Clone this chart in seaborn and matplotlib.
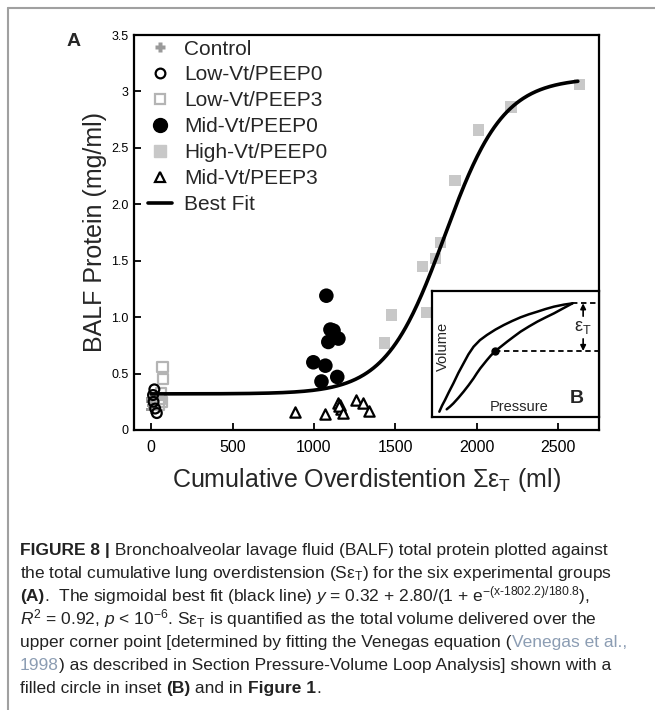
import numpy as np
import pandas as pd
import matplotlib
matplotlib.use("Agg")
import matplotlib.pyplot as plt
from matplotlib.lines import Line2D
import seaborn as sns

# ---------------- data ----------------
control_x = [0, 5, -5, 10, 0]
control_y = [0.18, 0.22, 0.25, 0.20, 0.28]

lowvt_peep0_x = [20, 12, 15, 25, 35]
lowvt_peep0_y = [0.36, 0.31, 0.25, 0.19, 0.15]

lowvt_peep3_x = [70, 72, 60, 55, 65, 50]
lowvt_peep3_y = [0.56, 0.45, 0.33, 0.28, 0.25, 0.22]

midvt_peep0_x = [1076, 1101, 1120, 1088, 1150, 996, 1070, 1046, 1143]
midvt_peep0_y = [1.19, 0.89, 0.88, 0.78, 0.81, 0.60, 0.57, 0.43, 0.47]

highvt_peep0_x = [1433, 1476, 1667, 1691, 1747, 1777, 1864, 2011, 2208, 2630]
highvt_peep0_y = [0.77, 1.02, 1.45, 1.04, 1.52, 1.66, 2.21, 2.66, 2.86, 3.06]

midvt_peep3_x = [886, 1065, 1150, 1160, 1165, 1155, 1180, 1260, 1300, 1340]
midvt_peep3_y = [0.16, 0.14, 0.24, 0.22, 0.19, 0.21, 0.15, 0.27, 0.24, 0.17]

# sigmoid best fit parameters (from caption)
fit_a, fit_b, fit_x0, fit_w = 0.32, 2.80, 1802.2, 180.8
fit_xmin, fit_xmax = 0, 2620

xticks = [0, 500, 1000, 1500, 2000, 2500]
yticks = [0, 0.5, 1.0, 1.5, 2.0, 2.5, 3.0, 3.5]
ytick_labels = ["0", "0.5", "1.0", "1.5", "2.0", "2.5", "3", "3.5"]

# inset schematic P-V loop (normalized)
loop_up_p = [0.044, 0.060, 0.078, 0.100, 0.128, 0.158, 0.189, 0.218, 0.249, 0.287, 0.329,
             0.380, 0.430, 0.480, 0.530, 0.580, 0.631, 0.680, 0.731, 0.790, 0.841]
loop_up_v = [0.042, 0.090, 0.135, 0.195, 0.267, 0.350, 0.426, 0.497, 0.558, 0.610, 0.651,
             0.694, 0.730, 0.762, 0.791, 0.815, 0.836, 0.857, 0.876, 0.892, 0.902]
loop_dn_p = [0.841, 0.785, 0.731, 0.680, 0.631, 0.580, 0.530, 0.490, 0.450, 0.415, 0.380,
             0.353, 0.329, 0.309, 0.289, 0.269, 0.249, 0.219, 0.189, 0.158, 0.128, 0.108, 0.088]
loop_dn_v = [0.902, 0.862, 0.823, 0.790, 0.757, 0.718, 0.677, 0.638, 0.598, 0.561, 0.524,
             0.489, 0.452, 0.419, 0.386, 0.348, 0.307, 0.252, 0.201, 0.152, 0.108, 0.083, 0.061]
ucp_p, ucp_v = 0.380, 0.524

# ---------------- style ----------------
sns.set_theme(style="ticks")
plt.rcParams["font.family"] = ["Liberation Sans", "DejaVu Sans"]
plt.rcParams["mathtext.fontset"] = "custom"
plt.rcParams["mathtext.rm"] = "Liberation Sans"
plt.rcParams["mathtext.it"] = "Liberation Sans:italic"
plt.rcParams["mathtext.bf"] = "Liberation Sans:bold"

W, H = 655, 710
fig = plt.figure(figsize=(W / 100, H / 100), dpi=100)

def fx(px):
    return px / W

def fy(py):
    return 1 - py / H

ax = fig.add_axes([fx(134), fy(430), fx(599) - fx(134), fy(35) - fy(430)])

df = lambda x, y: pd.DataFrame({"x": x, "y": y})

ctrl_c = "#9a9a9a"
sq_edge = "#b4b4b4"
hi_c = "#c8c8c8"

sns.scatterplot(data=df(control_x, control_y), x="x", y="y", ax=ax, marker="P",
                s=45, color=ctrl_c, edgecolor="none", zorder=3)
sns.scatterplot(data=df(lowvt_peep3_x, lowvt_peep3_y), x="x", y="y", ax=ax, marker="s",
                s=55, facecolor="none", edgecolor=sq_edge, linewidth=1.6, zorder=3)
sns.scatterplot(data=df(lowvt_peep0_x, lowvt_peep0_y), x="x", y="y", ax=ax, marker="o",
                s=50, facecolor="none", edgecolor="black", linewidth=1.6, zorder=4)
sns.scatterplot(data=df(highvt_peep0_x, highvt_peep0_y), x="x", y="y", ax=ax, marker="s",
                s=70, color=hi_c, edgecolor="none", zorder=2)
sns.scatterplot(data=df(midvt_peep0_x, midvt_peep0_y), x="x", y="y", ax=ax, marker="o",
                s=110, color="black", edgecolor="none", zorder=4)
sns.scatterplot(data=df(midvt_peep3_x, midvt_peep3_y), x="x", y="y", ax=ax, marker="^",
                s=55, facecolor="white", edgecolor="black", linewidth=1.6, zorder=4)

fit_x = np.linspace(fit_xmin, fit_xmax, 400)
fit_y = fit_a + fit_b / (1 + np.exp(-(fit_x - fit_x0) / fit_w))
sns.lineplot(x=fit_x, y=fit_y, ax=ax, color="black", lw=2.6, zorder=5)

ax.set_xlim(-105, 2750)
ax.set_ylim(0, 3.5)
ax.set_xticks(xticks)
ax.set_xticklabels([str(t) for t in xticks], fontsize=11.5)
ax.set_yticks(yticks)
ax.set_yticklabels(ytick_labels, fontsize=9)
ax.tick_params(direction="in", length=5, width=1.3, colors="black")
ax.tick_params(axis="x", pad=7)
ax.tick_params(axis="y", pad=4)
for sp in ax.spines.values():
    sp.set_visible(True)
    sp.set_linewidth(1.6)
    sp.set_color("black")
ax.set_xlabel(r"Cumulative Overdistention Σε$_{\mathrm{T}}$ (ml)", fontsize=18, labelpad=8)
ax.set_ylabel("BALF Protein (mg/ml)", fontsize=18, labelpad=3)

handles = [
    Line2D([], [], ls="none", marker="P", ms=7, color=ctrl_c, mec="none"),
    Line2D([], [], ls="none", marker="o", ms=7, mfc="none", mec="black", mew=1.6),
    Line2D([], [], ls="none", marker="s", ms=7, mfc="none", mec=sq_edge, mew=1.6),
    Line2D([], [], ls="none", marker="o", ms=10, color="black"),
    Line2D([], [], ls="none", marker="s", ms=8, color=hi_c),
    Line2D([], [], ls="none", marker="^", ms=7.5, mfc="none", mec="black", mew=1.6),
    Line2D([], [], color="black", lw=2.6),
]
labels = ["Control", "Low-Vt/PEEP0", "Low-Vt/PEEP3", "Mid-Vt/PEEP0",
          "High-Vt/PEEP0", "Mid-Vt/PEEP3", "Best Fit"]
ax.legend(handles, labels, loc="upper left", bbox_to_anchor=(0.02, 1.0), frameon=False,
          fontsize=15, handlelength=1.15, handletextpad=0.6, labelspacing=0.33,
          borderaxespad=0.1, borderpad=0.12)

# ---------------- inset ----------------
ins = fig.add_axes([fx(432), fy(417), fx(599) - fx(432), fy(291) - fy(417)])
ins.set_xlim(0, 1)
ins.set_ylim(0, 1)
ins.set_xticks([])
ins.set_yticks([])
for sp in ins.spines.values():
    sp.set_linewidth(1.6)
    sp.set_color("black")
sns.lineplot(x=loop_up_p, y=loop_up_v, ax=ins, color="black", lw=1.8, sort=False)
sns.lineplot(x=loop_dn_p, y=loop_dn_v, ax=ins, color="black", lw=1.8, sort=False)
ins.plot([ucp_p], [ucp_v], "o", color="black", ms=5)
ins.plot([loop_up_p[-1], 1.0], [loop_up_v[-1], loop_up_v[-1]], color="black", lw=1.3, ls=(0, (3, 2)))
ins.plot([ucp_p, 1.0], [ucp_v, ucp_v], color="black", lw=1.3, ls=(0, (3, 2)))
ins.annotate("", xy=(0.905, loop_up_v[-1]), xytext=(0.905, 0.80),
             arrowprops=dict(arrowstyle="-|>", color="black", lw=1.2, mutation_scale=8,
                             shrinkA=0, shrinkB=0))
ins.annotate("", xy=(0.905, ucp_v), xytext=(0.905, 0.62),
             arrowprops=dict(arrowstyle="-|>", color="black", lw=1.2, mutation_scale=8,
                             shrinkA=0, shrinkB=0))
ins.text(0.905, 0.71, r"ε$_{\mathrm{T}}$", fontsize=13, ha="center", va="center")
ins.text(0.065, 0.56, "Volume", rotation=90, fontsize=10.5, ha="center", va="center")
ins.text(0.52, 0.08, "Pressure", fontsize=10.5, ha="center", va="center")
ins.text(0.865, 0.15, "B", fontsize=14, fontweight="bold", ha="center", va="center")

# panel letter
fig.text(fx(74), fy(41), "A", fontsize=14, fontweight="bold", ha="center", va="center")

# gray page frame
fig.add_artist(Line2D([fx(8), fx(8)], [0, fy(8)], color="#a0a0a0", lw=1.5))
fig.add_artist(Line2D([fx(8), 1], [fy(8), fy(8)], color="#a0a0a0", lw=1.5))

# ---------------- caption ----------------
cap_size = 12.5
cap_col = "#222222"
link_col = "#8c9db3"
renderer = fig.canvas.get_renderer()

def rich_line(py, pieces, x0=20):
    x = fx(x0)
    for txt, kw in pieces:
        t = fig.text(x, fy(py), txt, fontsize=cap_size, color=kw.get("color", cap_col),
                     fontweight=kw.get("weight", "normal"), ha="left", va="baseline")
        bb = t.get_window_extent(renderer)
        x += bb.width / W

bold = {"weight": "bold"}
plain = {}
link = {"color": link_col}
base0, step = 555, 23.0
lines = [
    [("FIGURE 8 |", bold), (" Bronchoalveolar lavage fluid (BALF) total protein plotted against", plain)],
    [(r"the total cumulative lung overdistension (Sε$_{\mathrm{T}}$) for the six experimental groups", plain)],
    [("(A)", bold), (r".  The sigmoidal best fit (black line) $y$ = 0.32 + 2.80/(1 + e$^{-(\mathrm{x}\text{-}1802.2)/180.8}$),", plain)],
    [(r"$R^{2}$ = 0.92, $p$ < 10$^{-6}$. Sε$_{\mathrm{T}}$ is quantified as the total volume delivered over the", plain)],
    [("upper corner point [determined by fitting the Venegas equation (", plain), ("Venegas et al.,", link)],
    [("1998", link), (") as described in Section Pressure-Volume Loop Analysis] shown with a", plain)],
    [("filled circle in inset ", plain), ("(B)", bold), (" and in ", plain), ("Figure 1", bold), (".", plain)],
]
for i, ln in enumerate(lines):
    rich_line(base0 + i * step, ln)

fig.savefig("out.png", dpi=100)
